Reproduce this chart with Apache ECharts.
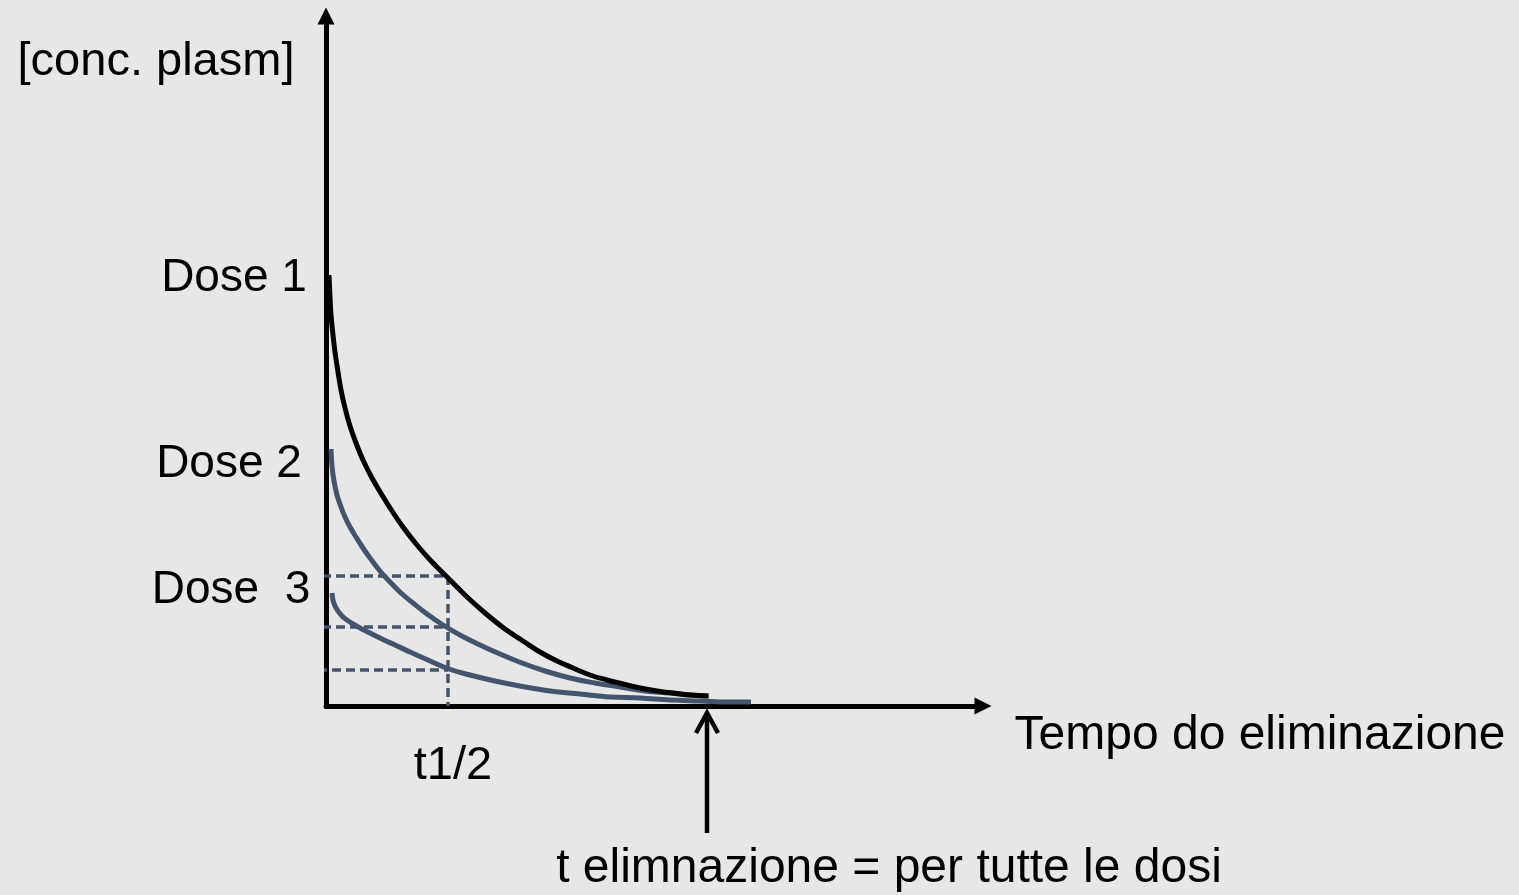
<!DOCTYPE html>
<html>
<head>
<meta charset="utf-8">
<script src="https://cdn.jsdelivr.net/npm/echarts@6/dist/echarts.min.js"></script>
<style>
  html, body { margin: 0; padding: 0; background: #e7e7e7; }
  #chart { width: 1519px; height: 895px; }
</style>
</head>
<body>
<div id="chart"></div>
<script>
// Elimination curves for three doses (time and plasma concentration in arbitrary units)
const dose1T = [0.3, 0.4, 0.5, 0.7, 0.9, 1.2, 1.5, 1.9, 2.4, 3.0, 3.7, 4.6, 5.6, 6.6, 7.7, 9.1, 10.6, 12.3, 14.0, 15.9, 17.9, 19.7, 21.4, 23.1, 24.7, 26.4, 28.1, 29.7, 31.4, 33.1, 34.7, 36.4, 38.2];
const dose1C = [43.1, 40.9, 39.1, 37.1, 35.4, 33.4, 31.6, 29.8, 28.0, 26.3, 24.6, 22.8, 21.1, 19.5, 17.9, 16.1, 14.4, 12.7, 11.0, 9.3, 7.7, 6.5, 5.4, 4.5, 3.8, 3.1, 2.6, 2.2, 1.8, 1.5, 1.3, 1.1, 1.0];

const dose2T = [0.5, 0.6, 0.8, 1.1, 1.5, 1.9, 2.4, 3.0, 3.7, 4.4, 5.4, 6.4, 7.5, 8.7, 10.1, 11.7, 13.4, 15.4, 17.4, 19.6, 21.9, 24.4, 26.9, 29.4, 31.9, 34.4, 36.4, 38.3];
const dose2C = [25.7, 24.0, 22.5, 21.1, 19.9, 18.9, 17.9, 16.9, 15.8, 14.8, 13.5, 12.4, 11.3, 10.3, 9.2, 8.1, 7.1, 6.1, 5.2, 4.3, 3.5, 2.8, 2.3, 1.9, 1.5, 1.3, 1.1, 1.0];

const dose3T = [0.6, 0.7, 0.9, 1.2, 1.6, 2.1, 2.7, 3.4, 4.4, 5.6, 6.9, 8.4, 10.2, 12.3, 14.4, 16.9, 19.4, 22.4, 25.4, 28.4, 31.4, 34.4, 37.4, 40.4, 42.5];
const dose3C = [11.3, 10.6, 10.0, 9.5, 9.0, 8.6, 8.2, 7.8, 7.3, 6.7, 6.1, 5.4, 4.6, 3.7, 3.1, 2.5, 2.0, 1.5, 1.2, 0.9, 0.8, 0.6, 0.5, 0.4, 0.4];

// Half-life marker and the concentrations reached at that time
const tHalf = 12.2;
const halfLevels = [13.0, 7.9, 3.6];
const halfGuideStart = [-0.4, -0.4, -0.8];

// Common elimination time for all doses
const tElim = 38.1;

// Text
const yTitle = '[conc. plasm]';
const xTitle = 'Tempo do eliminazione';
const doseLabels = ['Dose 1', 'Dose 2', 'Dose  3'];
const halfLabel = 't1/2';
const elimLabel = 't elimnazione = per tutte le dosi';

const SLATE = '#44546a';
const FONT = '"Liberation Sans", Arial, sans-serif';

function pairs(xs, ys) { return xs.map((x, i) => [x, ys[i]]); }

const curveSeries = [
  { name: doseLabels[0], data: pairs(dose1T, dose1C), color: '#000000', z: 5 },
  { name: doseLabels[1], data: pairs(dose2T, dose2C), color: SLATE, z: 4 },
  { name: doseLabels[2], data: pairs(dose3T, dose3C), color: SLATE, z: 4 }
].map(s => ({
  type: 'line',
  name: s.name,
  data: s.data,
  smooth: 0.4,
  symbol: 'none',
  z: s.z,
  lineStyle: { color: s.color, width: 5, cap: 'butt' }
}));

const dashStyle = { color: SLATE, width: 3.5, type: [9, 5] };

const guideSeries = halfLevels.map((c, i) => ({
  type: 'line',
  data: [[halfGuideStart[i], c], [tHalf, c]],
  symbol: 'none',
  clip: false,
  silent: true,
  z: 3,
  lineStyle: dashStyle
}));
guideSeries.push({
  type: 'line',
  data: [[tHalf, halfLevels[0]], [tHalf, 0]],
  symbol: 'none',
  clip: false,
  silent: true,
  z: 3,
  lineStyle: dashStyle
});

const chart = echarts.init(document.getElementById('chart'), null, { renderer: 'canvas' });

const axisLine = {
  show: true,
  lineStyle: { color: '#000', width: 5 },
  symbol: ['none', 'triangle'],
  symbolSize: [17, 17]
};

chart.setOption({
  animation: false,
  backgroundColor: '#e7e7e7',
  grid: { left: 326, right: 536, top: 16, bottom: 189 },
  xAxis: {
    type: 'value', min: 0, max: 65.7,
    axisLine: axisLine,
    axisTick: { show: false }, axisLabel: { show: false }, splitLine: { show: false }
  },
  yAxis: {
    type: 'value', min: 0, max: 69,
    axisLine: axisLine,
    axisTick: { show: false }, axisLabel: { show: false }, splitLine: { show: false }
  },
  series: guideSeries.concat(curveSeries)
});

// Annotations placed from the axes' own scales
const elimPt = chart.convertToPixel({ xAxisIndex: 0, yAxisIndex: 0 }, [tElim, 0]);
const halfPt = chart.convertToPixel({ xAxisIndex: 0, yAxisIndex: 0 }, [tHalf, 0]);

function label(text, x, y, size, align) {
  return {
    type: 'text', x: x, y: y, z: 10,
    style: { text: text, fill: '#000', font: size + 'px ' + FONT, align: align || 'center', verticalAlign: 'middle' }
  };
}

const ax = elimPt[0], ay = elimPt[1];
chart.setOption({
  graphic: [
    label(yTitle, 156, 62, 47),
    label(doseLabels[0], 234, 278, 46),
    label(doseLabels[1], 229, 464, 46),
    label(doseLabels[2], 231, 590, 46),
    label(halfLabel, halfPt[0] + 5, 766, 47),
    label(xTitle, 1260, 736, 48),
    label(elimLabel, 889, 869, 48),
    {
      type: 'line', z: 10,
      shape: { x1: ax, y1: ay + 8, x2: ax, y2: ay + 127 },
      style: { stroke: '#000', lineWidth: 4.5 }
    },
    {
      type: 'polyline', z: 10,
      shape: { points: [[ax - 11, ay + 27], [ax, ay + 7], [ax + 11, ay + 27]] },
      style: { stroke: '#000', lineWidth: 4.5, fill: null, lineJoin: 'miter' }
    }
  ]
});
</script>
</body>
</html>
